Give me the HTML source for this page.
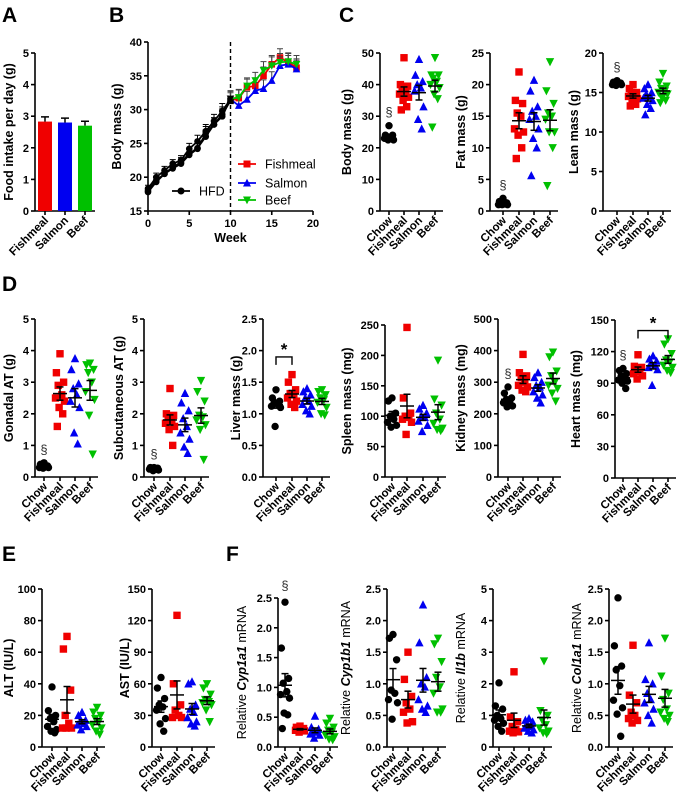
<!DOCTYPE html>
<html><head><meta charset="utf-8"><style>
html,body{margin:0;padding:0;background:#fff}
svg{display:block;font-family:"Liberation Sans",Arial,sans-serif}
</style></head><body>
<svg id="fig" width="677" height="802" viewBox="0 0 677 802">
<g font-weight="bold" font-size="21" fill="#000">
<text x="2" y="22">A</text>
<text x="109" y="22">B</text>
<text x="339" y="22">C</text>
<text x="2" y="291">D</text>
<text x="2" y="561">E</text>
<text x="226" y="561">F</text>
</g>
</svg>
<script>
// ---------- data ----------
const groupNames = ['Chow','Fishmeal','Salmon','Beef'];
const foodCats = ['Fishmeal','Salmon','Beef'];
const foodIntake = [2.83, 2.80, 2.70];
const foodSem = [0.15, 0.14, 0.14];

const weeks = [0,1,2,3,4,5,6,7,8,9,10,11,12,13,14,15,16,17,18];
const bwFishmeal = [18,19.5,20.5,21.5,22.2,23.5,24.3,26,27.8,29.3,31.3,31.7,33.3,33.5,35,36.7,37.7,37,36.2];
const bwSalmon = [18.3,20,21,22,22.5,24.2,25.3,26.8,28.3,29.8,31.5,30.6,31.5,32.8,33.1,34.3,36.5,36.7,36];
const bwBeef = [17.8,19.3,20.5,21.3,22,23.3,24.2,26.5,27.8,29,31.6,31.8,33.5,34.3,35.8,36.5,37,37.1,36.7];
const bwSem = [0.5,0.6,0.6,0.6,0.7,0.8,0.9,1,1,1.1,1.2,1.2,1.2,1.2,1.3,1.3,1.3,1.3,1.3];
const bwTicksX = ['0','5','10','15','20'];
const bwTicksY = ['15','20','25','30','35','40'];

const bodyMass = [[27,24,23.5,23,22.5,22.5,23,24],[48.5,40,39.5,39,38,37,36,35,33,32],[48,43,41,40,39,38,33,29,26],[48.5,43,43,42,41,40,39,37,35.5,26.5]];
const fatMass = [[2,1.5,1.2,1,1,1.1,1.3,1],[22,17.5,17,15.5,15,13,12.5,12,10,8.3],[20.7,19,16.5,15.8,15,14.5,13,11.5,10,5.6],[23.6,19,17,15.5,15,14.5,12.5,12.5,10,4]];
const leanMass = [[16.5,16.3,16.2,16.1,16,16,16.1,15.9],[16,15.5,15,15,14.8,14.5,14.2,13.8,13.5,13.3],[16,15.5,15,14.8,14.5,14.3,14,13.5,13,12.2],[17.4,16.3,15.8,15.5,15.2,15,14.8,14.3,14,13.7]];
const gonadalAT = [[0.45,0.4,0.35,0.35,0.3,0.3,0.28,0.32],[3.9,3.3,3.0,2.9,2.6,2.5,2.4,2.2,2.0,1.6],[3.75,3.4,2.95,2.8,2.6,2.4,2.2,1.4,1.05],[3.6,3.55,3.4,3.3,3.0,2.7,2.45,1.95,0.72]];
const subcutAT = [[0.3,0.25,0.28,0.22,0.27,0.3,0.25,0.2],[2.8,2.0,1.95,1.9,1.8,1.7,1.6,1.5,1.0],[2.65,2.35,2.1,1.85,1.6,1.4,1.2,0.95,0.75],[3.05,2.7,2.4,1.95,1.9,1.8,1.65,1.5,0.55]];
const liverMass = [[1.38,1.25,1.2,1.18,1.15,1.12,1.1,0.8],[1.62,1.5,1.38,1.32,1.3,1.25,1.2,1.15,1.1],[1.4,1.35,1.3,1.25,1.2,1.15,1.12,1.05,1.0],[1.38,1.35,1.3,1.25,1.22,1.18,1.1,1.0,0.98]];
const spleenMass = [[130,125,105,100,95,90,85,82],[246,130,105,100,98,95,90,70],[118,112,105,100,98,92,85,75],[192,128,118,105,95,88,80,78,76]];
const kidneyMass = [[285,265,250,245,240,235,225,222],[388,330,320,315,300,290,285,275,270],[330,315,300,290,285,270,260,250,235],[395,380,335,320,300,290,280,265,240]];
const heartMass = [[104,102,99,97,95,93,92,90,85],[117,106,105,104,101,99,97,94],[116,113,111,109,107,105,103,88],[132,127,118,112,110,107,105,102,100]];
const altLevels = [[38,23,20,18,16,13,11,10,9],[70,62,36,20,15,12,12,12],[22,20,17,16,15,14,13,11],[25,22,20,18,16,14,12,10,8]];
const astLevels = [[66,56,46,40,38,35,27,22,15],[125,60,40,35,30,28,28],[62,60,40,36,33,28,24,22,20],[60,56,50,45,43,42,40,35,24]];
const cyp1a1 = [[2.43,1.66,1.15,1.07,0.93,0.88,0.82,0.57,0.54,0.31],[0.35,0.33,0.31,0.3,0.29,0.28,0.27,0.25],[0.52,0.33,0.3,0.27,0.25,0.22,0.2,0.15],[0.48,0.4,0.33,0.28,0.25,0.2,0.17,0.13,0.12]];
const cyp1b1 = [[1.78,1.72,1.38,0.9,0.85,0.75,0.7,0.44],[1.5,1.07,0.8,0.7,0.6,0.55,0.4,0.38],[2.25,1.65,1.1,1.0,0.95,0.75,0.65,0.6,0.55],[1.72,1.63,1.35,1.1,0.95,0.85,0.6,0.55,0.55]];
const il1b = [[2.03,1.3,1.2,1.0,0.9,0.85,0.75,0.65,0.5],[2.38,0.95,0.8,0.65,0.55,0.5,0.48,0.45],[0.9,0.85,0.8,0.7,0.65,0.6,0.55,0.5,0.45],[2.72,1.15,1.0,0.85,0.7,0.6,0.5,0.45,0.42]];
const col1a1 = [[2.36,1.6,1.28,1.22,0.97,0.74,0.62,0.52,0.17],[1.61,0.82,0.7,0.55,0.5,0.45,0.42,0.38],[1.65,1.07,1.0,0.85,0.75,0.7,0.6,0.5,0.38],[1.72,1.12,0.85,0.75,0.6,0.55,0.5,0.45,0.4]];

const ticks50 = ['0','10','20','30','40','50'];
const ticks25 = ['0','5','10','15','20','25'];
const ticks20 = ['0','5','10','15','20'];
const ticks5 = ['0','1','2','3','4','5'];
const ticks25d = ['0.0','0.5','1.0','1.5','2.0','2.5'];
const ticks250 = ['0','50','100','150','200','250'];
const ticks500 = ['0','100','200','300','400','500'];
const ticks150 = ['0','30','60','90','120','150'];
const ticks100 = ['0','20','40','60','80','100'];
const ticks150b = ['0','30','60','90','120','150'];

// ---------- drawing ----------
const NS='http://www.w3.org/2000/svg';
const svg=document.getElementById('fig');
const COLORS=['#000','#f00000','#0000f0','#00c000'];
const SHAPES=['circle','square','tri','tridown'];
function mk(tag,attrs,parent){const e=document.createElementNS(NS,tag);for(const k in attrs)e.setAttribute(k,attrs[k]);(parent||svg).appendChild(e);return e;}
function txt(s,attrs,parent){const e=mk('text',attrs,parent);e.textContent=s;return e;}
function marker(p,shape,x,y,c,s){
  s=s||3.7;let e;
  if(shape==='circle')e=mk('circle',{cx:x,cy:y,r:s,fill:c},p);
  else if(shape==='square')e=mk('rect',{x:x-s,y:y-s,width:2*s,height:2*s,fill:c},p);
  else if(shape==='tri')e=mk('polygon',{points:`${x},${y-s-0.8} ${x-s-0.5},${y+s} ${x+s+0.5},${y+s}`,fill:c},p);
  else e=mk('polygon',{points:`${x},${y+s+0.8} ${x-s-0.5},${y-s} ${x+s+0.5},${y-s}`,fill:c},p);
  return e;
}
function stats(a){const n=a.length;const m=a.reduce((s,v)=>s+v,0)/n;const sd=Math.sqrt(a.reduce((s,v)=>s+(v-m)*(v-m),0)/(n-1));return [m,sd/Math.sqrt(n)];}
function yAxis(g,ax,top,bot,labels){
  mk('line',{x1:ax,y1:top,x2:ax,y2:bot,stroke:'#000','stroke-width':1.6},g);
  labels.forEach((l,i)=>{const y=bot-i*(bot-top)/(labels.length-1);
    mk('line',{x1:ax-4,y1:y,x2:ax,y2:y,stroke:'#000','stroke-width':1.6},g);
    const t=txt(l,{x:ax-6,y:y+4,'text-anchor':'end','font-size':11,'font-weight':'bold'},g);
    
    
  });
}
function yTitle(g,x,cy,parts){
  const t=mk('text',{x:x,y:cy,transform:`rotate(-90 ${x} ${cy})`,'text-anchor':'middle','font-size':12.5,'font-weight':'bold','dominant-baseline':'middle'},g);
  parts.forEach(p=>{const s=mk('tspan',{},t);s.textContent=p[0];if(p[1]){s.setAttribute('font-style','italic');s.setAttribute('font-weight','bold');}if(p[2])s.setAttribute('font-weight','normal');});
  
  
}
function catLabels(g,xs,bot,names){
  xs.forEach((x,i)=>{
    mk('line',{x1:x,y1:bot,x2:x,y2:bot+4,stroke:'#000','stroke-width':1.6},g);
    const tx=x+4,ty=bot+10;
    const t=txt(names[i],{x:tx,y:ty,transform:`rotate(-45 ${tx} ${ty})`,'text-anchor':'end','font-size':11.5,'font-weight':'bold'},g);
    
    
  });
}
const JIT=[0,-4,4,-2,2,-5,5,-1,3,-3];
function scatterPanel(name,cfg,groups){
  const g=mk('g',{});
  
  
  const {ax,top,bot,max,ticks,cats,tx,title}=cfg;
  const Y=v=>bot-v/max*(bot-top);
  yAxis(g,ax,top,bot,ticks);
  mk('line',{x1:ax,y1:bot,x2:cats[3]+8,y2:bot,stroke:'#000','stroke-width':1.6},g);
  catLabels(g,cats,bot,groupNames);
  yTitle(g,tx,(top+bot)/2,title);
  groups.forEach((vals,gi)=>{
    const sg=mk('g',{},g);
    
    
    const sorted=vals.slice().sort((a,b)=>b-a);
    sorted.forEach((v,i)=>{
      const m=marker(sg,SHAPES[gi],cats[gi]+JIT[i%JIT.length]*0.9,Y(v),COLORS[gi]);
      
      
    });
    const [mean,sem]=stats(vals);const x=cats[gi];
    const eb=mk('g',{stroke:'#000','stroke-width':1.5},sg);
    
    
    mk('line',{x1:x-7,y1:Y(mean),x2:x+7,y2:Y(mean)},eb);
    mk('line',{x1:x,y1:Y(mean+sem),x2:x,y2:Y(mean-sem)},eb);
    mk('line',{x1:x-3.5,y1:Y(mean+sem),x2:x+3.5,y2:Y(mean+sem)},eb);
    mk('line',{x1:x-3.5,y1:Y(mean-sem),x2:x+3.5,y2:Y(mean-sem)},eb);
  });
  if(cfg.sect){const v=Math.max(...groups[0]);const s=txt('§',{x:cats[0],y:cfg.sectY||Y(v)-9,'text-anchor':'middle','font-size':13,fill:'#333'},g);}
  if(cfg.bracket){const [a,b,v]=cfg.bracket;const y=Y(v);
    const br=mk('path',{d:`M${cats[a]},${y+8} V${y} H${cats[b]} V${y+8}`,fill:'none',stroke:'#000','stroke-width':1.4},g);
    
    
    const st=txt('*',{x:(cats[a]+cats[b])/2,y:y-2,'text-anchor':'middle','font-size':17,'font-weight':'bold'},g);
    
    }
}

// ---------- Panel A ----------
(function(){
  const g=mk('g',{});
  
  
  const ax=35,top=53,bot=211,max=5;const Y=v=>bot-v/max*(bot-top);
  const xs=[45,65,85];
  yAxis(g,ax,top,bot,ticks5);
  mk('line',{x1:ax,y1:bot,x2:95,y2:bot,stroke:'#000','stroke-width':1.6},g);
  yTitle(g,10,(top+bot)/2,[['Food intake per day (g)']]);
  foodIntake.forEach((v,i)=>{
    const r=mk('rect',{x:xs[i]-7,y:Y(v),width:14,height:bot-Y(v),fill:COLORS[i+1]},g);
    
    
    const e=mk('path',{d:`M${xs[i]},${Y(v)} V${Y(v+foodSem[i])} M${xs[i]-4},${Y(v+foodSem[i])} H${xs[i]+4}`,stroke:'#000','stroke-width':1.5,fill:'none'},g);
    
    
  });
  catLabels(g,xs,bot,foodCats);
})();

// ---------- Panel B ----------
(function(){
  const g=mk('g',{});
  
  
  const x0=148,x1=313,top=42,bot=211;
  const X=w=>x0+w/20*(x1-x0), Y=v=>bot-(v-15)/25*(bot-top);
  yAxis(g,x0,top,bot,bwTicksY);
  mk('line',{x1:x0,y1:bot,x2:x1,y2:bot,stroke:'#000','stroke-width':1.6},g);
  bwTicksX.forEach((l,i)=>{const x=X(+l);
    mk('line',{x1:x,y1:bot,x2:x,y2:bot+4,stroke:'#000','stroke-width':1.6},g);
    const t=txt(l,{x:x,y:bot+16,'text-anchor':'middle','font-size':11,'font-weight':'bold'},g);
    
    });
  const xt=txt('Week',{x:(x0+x1)/2,y:bot+31,'text-anchor':'middle','font-size':12.5,'font-weight':'bold'},g);
  
  
  yTitle(g,118,(top+bot)/2,[['Body mass (g)']]);
  const dl=mk('line',{x1:X(10),y1:top,x2:X(10),y2:bot,stroke:'#000','stroke-width':1.4,'stroke-dasharray':'4,3'},g);
  
  
  const series=[bwFishmeal,bwSalmon,bwBeef];
  series.forEach((s,si)=>{
    const sg=mk('g',{},g);
    
    
    weeks.forEach((w,i)=>{
      const c=w<=10?'#000':COLORS[si+1];
      mk('path',{d:`M${X(w)},${Y(s[i])} V${Y(s[i]+bwSem[i])} M${X(w)-3},${Y(s[i]+bwSem[i])} H${X(w)+3}`,stroke:w<10?'#000':'#444','stroke-width':1,fill:'none'},sg);
      if(i>0){const cc=w<=10?'#000':COLORS[si+1];mk('line',{x1:X(weeks[i-1]),y1:Y(s[i-1]),x2:X(w),y2:Y(s[i]),stroke:cc,'stroke-width':1.8},sg);}
    });
    weeks.forEach((w,i)=>{
      const m=marker(sg,w<10?'circle':SHAPES[si+1],X(w),Y(s[i]),w<=10?'#000':COLORS[si+1],3.3);
      
      
    });
  });
  // legend
  const lg=mk('g',{},g);
  
  
  const items=[['HFD','circle','#000',172,191,199],['Fishmeal','square',COLORS[1],238,164,265],['Salmon','tri',COLORS[2],238,183,265],['Beef','tridown',COLORS[3],238,200,265]];
  items.forEach(it=>{
    const e=mk('g',{},lg);
    
    
    mk('line',{x1:it[3],y1:it[4],x2:it[3]+18,y2:it[4],stroke:it[2],'stroke-width':1.8},e);
    marker(e,it[1],it[3]+9,it[4],it[2],3.5);
    txt(it[0],{x:it[5],y:it[4]+4.5,'font-size':12.5},e);
  });
})();

// ---------- scatter panels ----------
scatterPanel('body-mass-chart',{ax:380,top:53,bot:211,max:50,ticks:ticks50,cats:[389,404,419,435],tx:348,title:[['Body mass (g)']],sect:true},bodyMass);
scatterPanel('fat-mass-chart',{ax:490,top:53,bot:211,max:25,ticks:ticks25,cats:[503,519,534,550],tx:462,title:[['Fat mass (g)']],sect:true},fatMass);
scatterPanel('lean-mass-chart',{ax:603,top:53,bot:211,max:20,ticks:ticks20,cats:[617,633,648,663],tx:575,title:[['Lean mass (g)']],sect:true},leanMass);

scatterPanel('gonadal-at-chart',{ax:35,top:319,bot:477,max:5,ticks:ticks5,cats:[44,60,75,90],tx:10,title:[['Gonadal AT (g)']],sect:true},gonadalAT);
scatterPanel('subcutaneous-at-chart',{ax:144,top:319,bot:477,max:5,ticks:ticks5,cats:[154,170,185,201],tx:120,title:[['Subcutaneous AT (g)']],sect:true},subcutAT);
scatterPanel('liver-mass-chart',{ax:263,top:319,bot:477,max:2.5,ticks:ticks25d,cats:[276,292,307,322],tx:237,title:[['Liver mass (g)']],bracket:[0,1,1.9]},liverMass);
scatterPanel('spleen-mass-chart',{ax:385,top:325,bot:477,max:250,ticks:ticks250,cats:[392,407,423,438],tx:348,title:[['Spleen mass  (mg)']]},spleenMass);
scatterPanel('kidney-mass-chart',{ax:498,top:319,bot:477,max:500,ticks:ticks500,cats:[508,523,538,553],tx:462,title:[['Kidney mass  (mg)']],sect:true},kidneyMass);
scatterPanel('heart-mass-chart',{ax:615,top:320,bot:478,max:150,ticks:ticks150,cats:[623,638,653,668],tx:577,title:[['Heart mass (mg)']],sect:true,bracket:[1,3,140]},heartMass);

scatterPanel('alt-chart',{ax:42,top:589,bot:747,max:100,ticks:ticks100,cats:[52,67,82,97],tx:10,title:[['ALT (IU/L)']]},altLevels);
scatterPanel('ast-chart',{ax:152,top:589,bot:747,max:150,ticks:ticks150b,cats:[161,177,192,207],tx:126,title:[['AST (IU/L)']]},astLevels);
scatterPanel('cyp1a1-chart',{ax:278,top:598,bot:747,max:2.5,ticks:ticks25d,cats:[285,300,315,330],tx:243,title:[['Relative ',0,1],['Cyp1a1',1],[' mRNA',0,1]],sect:true,sectY:590},cyp1a1);
scatterPanel('cyp1b1-chart',{ax:387,top:589,bot:747,max:2.5,ticks:ticks25d,cats:[393,408,423,438],tx:347,title:[['Relative ',0,1],['Cyp1b1',1],[' mRNA',0,1]]},cyp1b1);
scatterPanel('il1b-chart',{ax:493,top:589,bot:747,max:5,ticks:ticks5,cats:[499,514,529,544],tx:462,title:[['Relative ',0,1],['Il1b',1],[' mRNA',0,1]]},il1b);
scatterPanel('col1a1-chart',{ax:609,top:589,bot:747,max:2.5,ticks:ticks25d,cats:[618,633,649,665],tx:578,title:[['Relative ',0,1],['Col1a1',1],[' mRNA',0,1]]},col1a1);
</script>
</body></html>
